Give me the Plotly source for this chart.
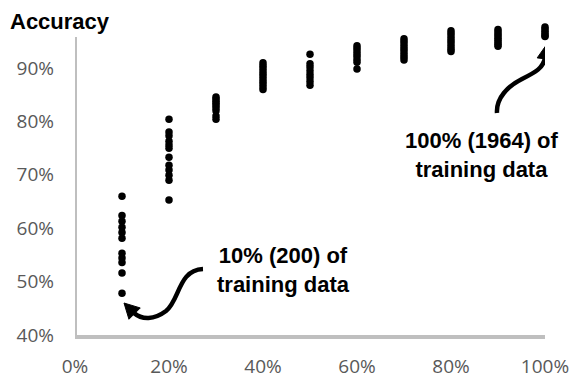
import math
import plotly.graph_objects as go

# Share of the training set used, and the accuracy of each run at that share
train_share = [0.1, 0.2, 0.3, 0.4, 0.5, 0.6, 0.7, 0.8, 0.9, 1.0]
acc_10 = [66.0, 62.4, 61.3, 60.2, 59.2, 58.1, 55.3, 54.4, 53.6, 51.6, 47.8]
acc_20 = [80.4, 78.0, 77.3, 76.3, 75.6, 75.0, 73.3, 71.8, 70.9, 69.9, 69.0, 65.3]
acc_30 = [84.6, 84.2, 83.8, 83.4, 83.0, 82.5, 82.0, 81.0, 80.4]
acc_40 = [91.0, 90.5, 90.0, 89.5, 89.0, 88.5, 88.0, 87.5, 87.0, 86.5, 86.0]
acc_50 = [92.6, 90.8, 90.2, 89.5, 88.8, 88.2, 87.5, 86.8]
acc_60 = [94.2, 93.7, 93.2, 92.7, 92.2, 91.6, 91.1, 89.8]
acc_70 = [95.5, 95.0, 94.5, 94.0, 93.5, 93.0, 92.5, 92.0, 91.5]
acc_80 = [97.0, 96.5, 96.0, 95.5, 95.0, 94.5, 94.0, 93.5, 93.1]
acc_90 = [97.2, 96.8, 96.4, 96.0, 95.6, 95.2, 94.8, 94.4, 94.1]
acc_100 = [97.7, 97.3, 96.9, 96.5, 96.1, 95.9]
runs = [acc_10, acc_20, acc_30, acc_40, acc_50, acc_60, acc_70, acc_80, acc_90, acc_100]

x_ticks = [0, 0.2, 0.4, 0.6, 0.8, 1.0]
y_ticks = [0.4, 0.5, 0.6, 0.7, 0.8, 0.9]

W, H = 575, 379
# The plot area reaches a little above the drawn y axis line so the
# highest runs stay visible; the axis line itself stops at Y_LINE_TOP.
M = dict(l=75, r=30, t=20, b=44)
X_RANGE = [0, 1]
Y_RANGE = [0.40, 0.99]
Y_LINE_TOP = 0.958
AXIS_GREY = "#bfbfbf"


def to_data(px, py):
    """Convert a pixel position on the page to axis coordinates."""
    pw = W - M["l"] - M["r"]
    ph = H - M["t"] - M["b"]
    x = X_RANGE[0] + (px - M["l"]) / pw * (X_RANGE[1] - X_RANGE[0])
    y = Y_RANGE[0] + (H - M["b"] - py) / ph * (Y_RANGE[1] - Y_RANGE[0])
    return x, y


def curve(points):
    """SVG path: move to the first point, then cubic segments of 3 points each."""
    pts = [to_data(*p) for p in points]
    d = "M {},{}".format(*pts[0])
    for i in range(1, len(pts), 3):
        a, b, c = pts[i:i + 3]
        d += " C {},{} {},{} {},{}".format(*a, *b, *c)
    return d


def head(tip, frm, length=15, half=8):
    """Filled triangular arrow head pointing at tip, coming from frm."""
    dx, dy = tip[0] - frm[0], tip[1] - frm[1]
    n = math.hypot(dx, dy)
    ux, uy = dx / n, dy / n
    bx, by = tip[0] - ux * length, tip[1] - uy * length
    px, py = -uy, ux
    pts = [tip, (bx + px * half, by + py * half), (bx - px * half, by - py * half)]
    pts = [to_data(*p) for p in pts]
    return "M {},{} L {},{} L {},{} Z".format(*pts[0], *pts[1], *pts[2])


xs, ys = [], []
for share, accs in zip(train_share, runs):
    for a in accs:
        xs.append(share)
        ys.append(a / 100)

fig = go.Figure(
    go.Scatter(
        x=xs, y=ys, mode="markers",
        marker=dict(size=7.5, color="black"),
        cliponaxis=False, hoverinfo="skip",
    )
)

arrow_style = dict(type="path", xref="x", yref="y", layer="above")
shapes = [
    # y axis line, ending below the top of the plot area
    dict(type="line", xref="x", yref="y", x0=X_RANGE[0], x1=X_RANGE[0],
         y0=Y_RANGE[0], y1=Y_LINE_TOP, line=dict(color=AXIS_GREY, width=4),
         layer="below"),
    dict(arrow_style, path=curve([(203, 269), (178, 270), (180, 300), (166, 311),
                                  (154, 320), (142, 320), (134, 313)]),
         line=dict(color="black", width=4.5)),
    dict(arrow_style, path=head((124, 303), (136, 315)),
         fillcolor="black", line=dict(color="black", width=1)),
    dict(arrow_style, path=curve([(497, 113), (496, 98), (508, 86), (522, 79),
                                  (536, 72), (543, 68), (545, 58)]),
         line=dict(color="black", width=4.5)),
    dict(arrow_style, path=head((547, 44), (545, 60)),
         fillcolor="black", line=dict(color="black", width=1)),
]

label_font = dict(family="Liberation Sans, Arial, sans-serif", size=22, color="black")
ax1, ay1 = to_data(283, 270)
ax2, ay2 = to_data(482, 155)
annotations = [
    dict(x=ax1, y=ay1, xref="x", yref="y", showarrow=False,
         text="<b>10% (200) of<br>training data</b>", font=label_font,
         align="center"),
    dict(x=ax2, y=ay2, xref="x", yref="y", showarrow=False,
         text="<b>100% (1964) of<br>training data</b>", font=label_font,
         align="center"),
]

tick_font = dict(family="Open Sans, Noto Sans, sans-serif", size=19, color="#595959")
fig.update_layout(
    width=W, height=H,
    margin=dict(l=M["l"], r=M["r"], t=M["t"], b=M["b"], pad=0),
    paper_bgcolor="white", plot_bgcolor="white",
    showlegend=False,
    title=dict(text="<b>Accuracy</b>", xref="container", yref="container",
               x=10 / W, y=1 - 21 / H, xanchor="left", yanchor="middle",
               font=dict(family="Liberation Sans, Arial, sans-serif", size=22, color="black")),
    shapes=shapes,
    annotations=annotations,
)
fig.update_xaxes(
    range=X_RANGE, tickvals=x_ticks, tickformat=".0%", automargin=False,
    showgrid=False, zeroline=False, showline=True, linecolor=AXIS_GREY, linewidth=4,
    ticks="", ticklabelstandoff=11, tickfont=tick_font,
)
fig.update_yaxes(
    range=Y_RANGE, tickvals=y_ticks, tickformat=".0%", automargin=False,
    showgrid=False, zeroline=False, showline=False,
    ticks="", ticklabelstandoff=20, tickfont=tick_font,
)

fig.write_html("out.html")
